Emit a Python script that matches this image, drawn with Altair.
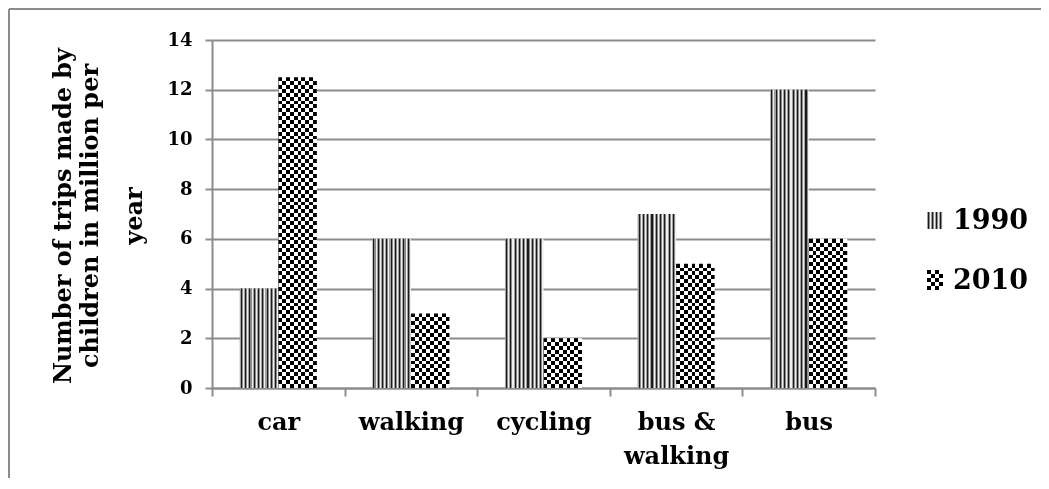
import altair as alt
import pandas as pd

categories = ["car", "walking", "cycling", "bus & walking", "bus"]
trips_1990 = [4, 6, 6, 7, 12]
trips_2010 = [12.5, 3, 2, 5, 6]
years = ["1990", "2010"]
y_ticks = [0, 2, 4, 6, 8, 10, 12, 14]
y_title = ["Number of trips made by", "children  in million per"]
y_title_last = "year"

rows = []
for c, a, b in zip(categories, trips_1990, trips_2010):
    rows.append({"mode": c, "year": "1990", "trips": a})
    rows.append({"mode": c, "year": "2010", "trips": b})
df = pd.DataFrame(rows)
legend_df = pd.DataFrame({"year": years})
frame_df = pd.DataFrame({"k": [0]})

W, H = 663, 348
PAD_L, PAD_T = 204, 32
YMAX = 14
FONT = "DejaVu Serif"
GRAY = "#8c8c8c"
CELL = 3.9


def stripes(colors, segments, along_x):
    stops = []
    k = len(colors)
    for i in range(segments):
        col = colors[i % k]
        stops.append(alt.GradientStop(offset=i / segments, color=col))
        stops.append(alt.GradientStop(offset=(i + 1) / segments, color=col))
    if along_x:
        return alt.LinearGradient(gradient="linear", stops=stops, x1=0, x2=1, y1=0, y2=0)
    return alt.LinearGradient(gradient="linear", stops=stops, x1=0, x2=0, y1=0, y2=1)


STRIPE_1990 = ["#a0a0a0", "#1a1a1a", "#8a8a8a", "#f0f0f0"]
grad_1990 = stripes(STRIPE_1990, 36, True)
grad_2010_cols = stripes(["black", "white"], 10, True)

x_enc = alt.X(
    "mode:N",
    sort=categories,
    scale=alt.Scale(paddingInner=0, paddingOuter=0),
    axis=alt.Axis(
        title=None, labelFont=FONT, labelFontSize=24, labelFontWeight="bold",
        labelColor="black", labelAngle=0, labelPadding=14, tickSize=8,
        tickBand="extent", tickColor=GRAY, tickWidth=2, domainColor=GRAY,
        domainWidth=2, grid=False, labelBaseline="top", labelLineHeight=34,
        labelExpr="datum.label == 'bus & walking' ? ['bus &', 'walking'] : datum.label",
    ),
)
xo_enc = alt.XOffset("year:N", scale=alt.Scale(domain=years, paddingInner=0, paddingOuter=0.72))
y_enc = alt.Y(
    "trips:Q",
    scale=alt.Scale(domain=[0, YMAX], nice=False),
    axis=alt.Axis(
        values=y_ticks, format="d", labelFont=FONT, labelFontSize=18,
        labelFontWeight="bold", labelColor="black", labelPadding=13, tickSize=7,
        tickColor=GRAY, tickWidth=2, domainColor=GRAY, domainWidth=2,
        grid=True, gridColor=GRAY, gridWidth=2, title=None,
    ),
)

base = alt.Chart(df).encode(x=x_enc, xOffset=xo_enc, y=y_enc)

layers = [
    base.mark_bar(fill=grad_1990).transform_filter("datum.year == '1990'"),
    base.mark_bar(fill=grad_2010_cols).transform_filter("datum.year == '2010'"),
]
for c, v in zip(categories, trips_2010):
    n = max(2, round(v * H / YMAX / CELL))
    layers.append(
        base.mark_bar(fill=stripes(["black", "white"], n, False), blend="difference")
        .transform_filter(alt.FieldEqualPredicate(field="mode", equal=c))
        .transform_filter("datum.year == '2010'")
    )

# y-axis title (rotated, multi-line)
fr = alt.Chart(frame_df)
title_style = dict(angle=270, align="center", baseline="top", lineBreak="\n", lineHeight=27,
                   font=FONT, fontSize=24, fontWeight="bold", color="black")
layers += [
    fr.mark_text(**title_style).encode(
        text=alt.value("\n".join(y_title)), x=alt.value(-160), y=alt.value(H / 2 + 2)),
    fr.mark_text(**title_style).encode(
        text=alt.value(y_title_last), x=alt.value(-89), y=alt.value(H / 2 + 2)),
]

# legend
LX = 927 - 8 - PAD_L
leg = alt.Chart(legend_df)
layers += [
    leg.mark_rect(fill=stripes(STRIPE_1990, 16, True))
    .encode(x=alt.value(LX), x2=alt.value(LX + 16), y=alt.value(204 - PAD_T), y2=alt.value(221 - PAD_T))
    .transform_filter("datum.year == '1990'"),
    leg.mark_rect(fill=stripes(["black", "white"], 4, True))
    .encode(x=alt.value(LX), x2=alt.value(LX + 16), y=alt.value(262 - PAD_T), y2=alt.value(282 - PAD_T))
    .transform_filter("datum.year == '2010'"),
    leg.mark_rect(fill=stripes(["black", "white"], 5, False), blend="difference")
    .encode(x=alt.value(LX), x2=alt.value(LX + 16), y=alt.value(262 - PAD_T), y2=alt.value(282 - PAD_T))
    .transform_filter("datum.year == '2010'"),
    leg.mark_text(align="left", baseline="middle", font=FONT, fontSize=27, fontWeight="bold", color="black")
    .encode(text="year:N", x=alt.value(945 - PAD_L), y=alt.value(213 - PAD_T))
    .transform_filter("datum.year == '1990'"),
    leg.mark_text(align="left", baseline="middle", font=FONT, fontSize=27, fontWeight="bold", color="black")
    .encode(text="year:N", x=alt.value(945 - PAD_L), y=alt.value(273 - PAD_T))
    .transform_filter("datum.year == '2010'"),
]

# chart frame
layers += [
    fr.mark_rule(color=GRAY, strokeWidth=2).encode(
        x=alt.value(-PAD_L + 1), y=alt.value(-PAD_T + 1), y2=alt.value(H + 120)),
    fr.mark_rule(color=GRAY, strokeWidth=2).encode(
        x=alt.value(-PAD_L + 1), x2=alt.value(W + 170), y=alt.value(-PAD_T + 1)),
]

chart = (
    alt.layer(*layers)
    .properties(
        width=W, height=H,
        autosize=alt.AutoSizeParams(type="none"),
        padding={"left": PAD_L, "top": PAD_T, "right": 166, "bottom": 90},
        background="white",
    )
    .configure_view(stroke=None)
)

chart.save("out.html", embed_options={"renderer": "svg", "actions": False})
